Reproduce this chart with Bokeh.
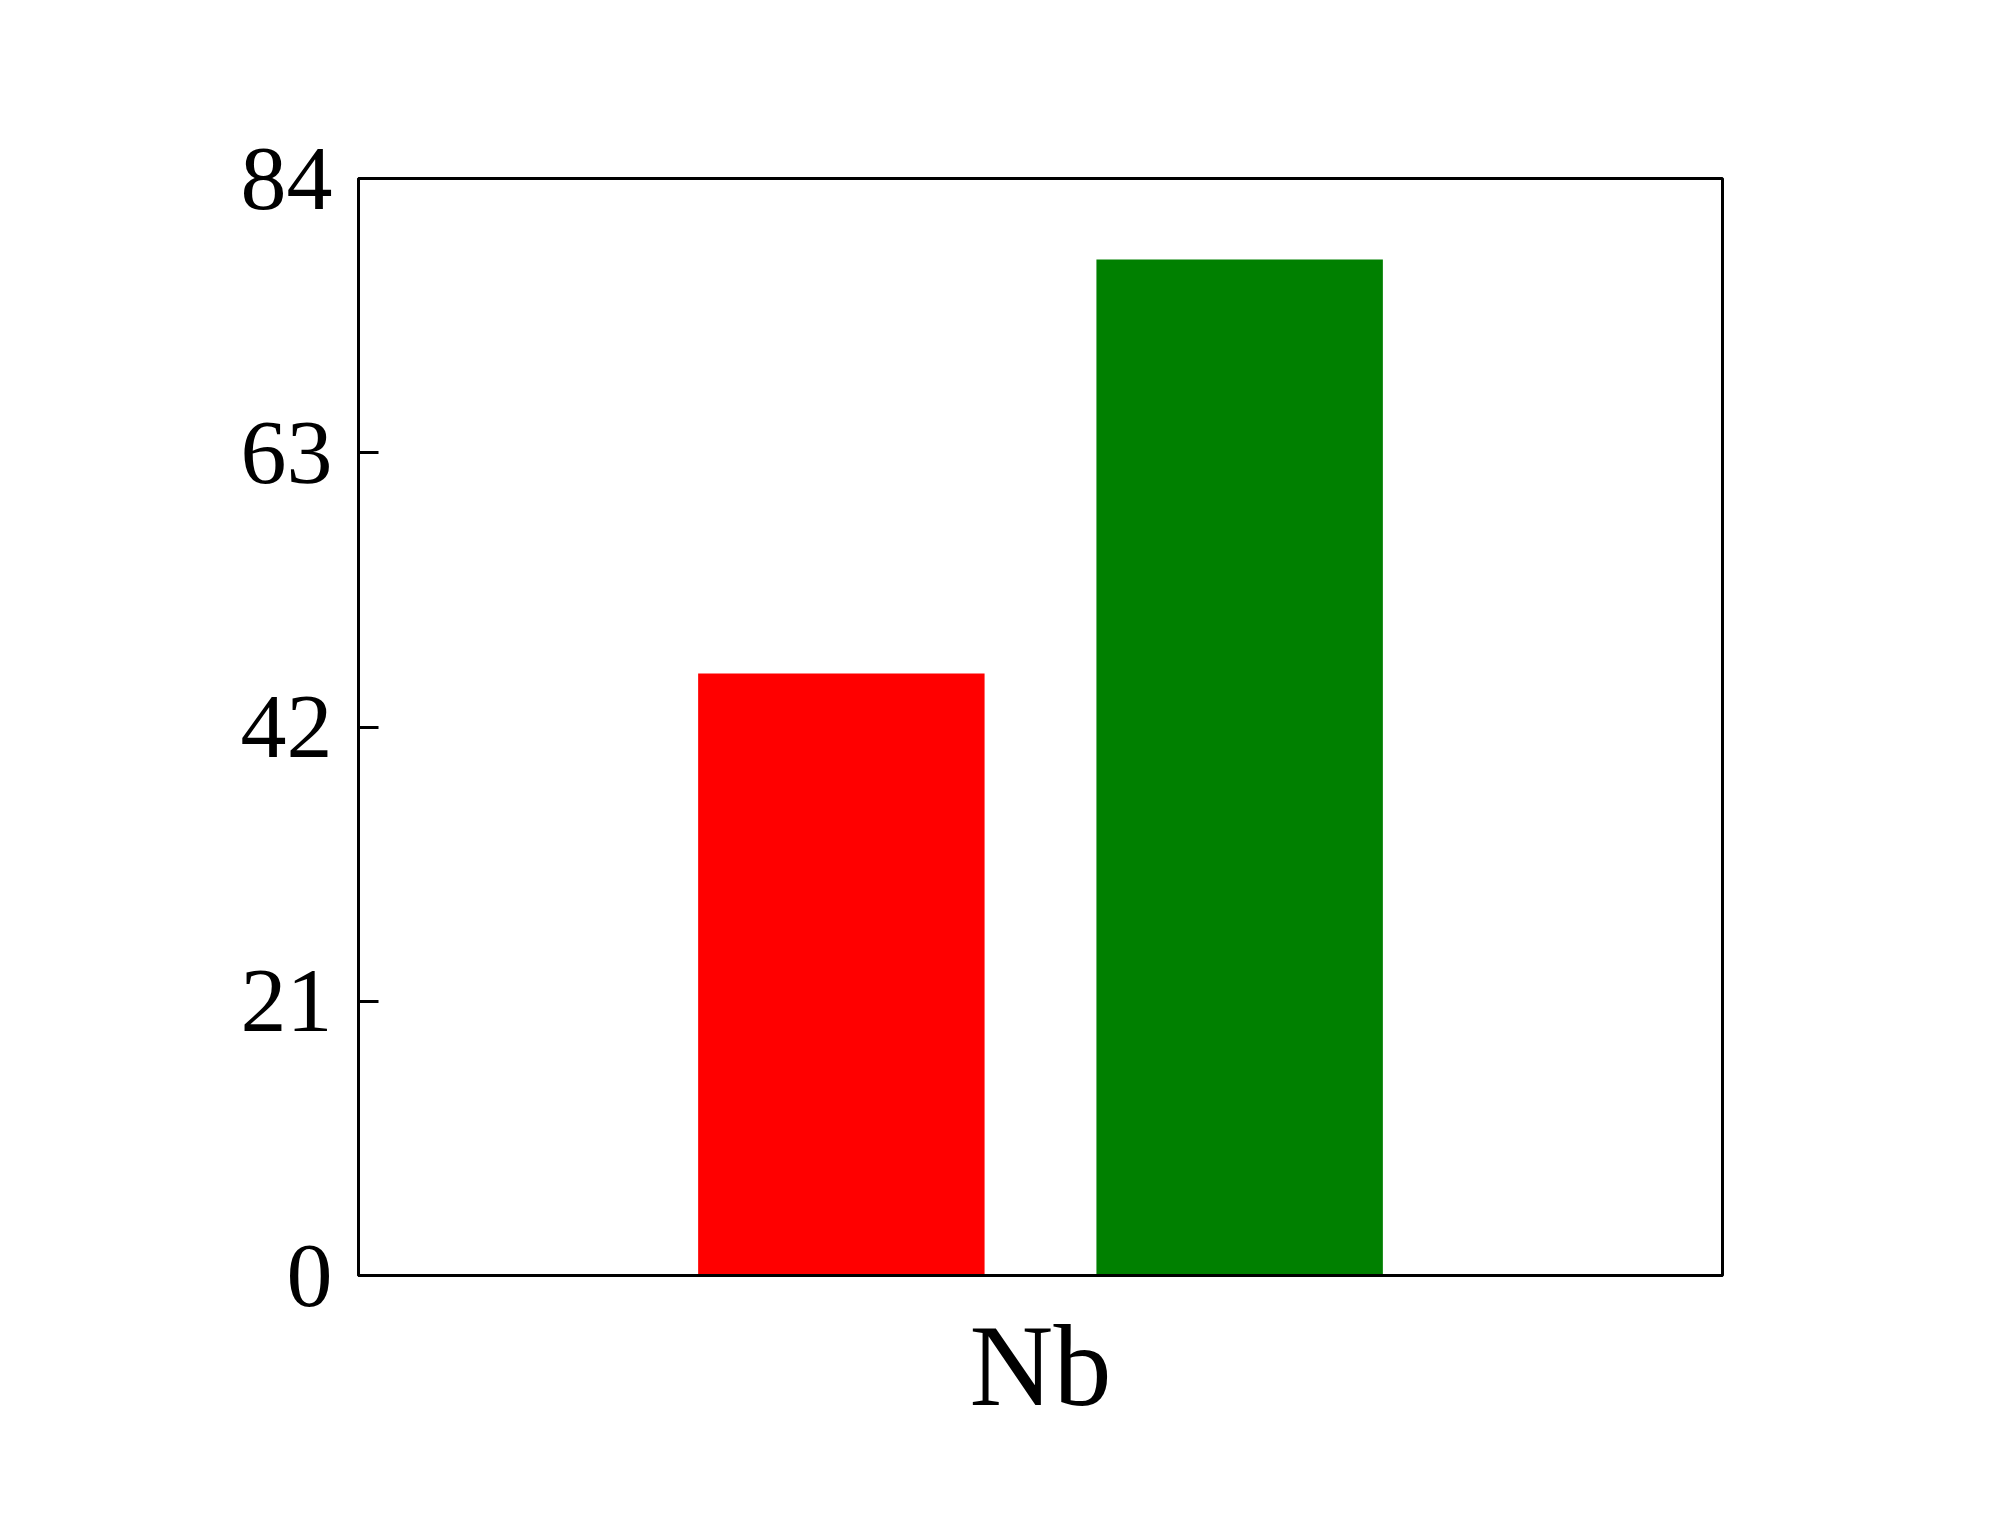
from bokeh.plotting import figure
from bokeh.models import ColumnDataSource, FactorRange, Range1d, FixedTicker
from bokeh.transform import dodge
from bokeh.embed import file_html
from bokeh.resources import INLINE

categories = ["Nb"]
series_a = [46.1]   # red
series_b = [77.8]   # green
y_ticks = [0, 21, 42, 63, 84]

source = ColumnDataSource(data=dict(cat=categories, a=series_a, b=series_b))

p = figure(width=1983, height=1514, output_backend="svg", toolbar_location=None,
           x_range=FactorRange(*categories, range_padding=0), y_range=Range1d(0, 84),
           min_border_left=358, min_border_right=261, min_border_top=178, min_border_bottom=239)

p.vbar(x=dodge("cat", -0.146, range=p.x_range), top="a", width=0.21, source=source,
       fill_color="#ff0000", line_color=None)
p.vbar(x=dodge("cat", 0.146, range=p.x_range), top="b", width=0.21, source=source,
       fill_color="#008000", line_color=None)

p.grid.visible = False
p.background_fill_color = "white"
p.border_fill_color = "white"
p.outline_line_color = "black"
p.outline_line_width = 3

p.yaxis.ticker = FixedTicker(ticks=y_ticks)
p.yaxis.major_tick_in = 20
p.yaxis.major_tick_out = 0
p.yaxis.major_tick_line_width = 3
p.yaxis.major_tick_line_color = "black"
p.yaxis.minor_tick_line_color = None
p.yaxis.axis_line_width = 3
p.yaxis.axis_line_color = "black"
p.yaxis.major_label_text_font = "Liberation Serif"
p.yaxis.major_label_text_font_size = "92px"
p.yaxis.major_label_text_color = "black"
p.yaxis.major_label_standoff = 26

p.xaxis.major_tick_line_color = None
p.xaxis.minor_tick_line_color = None
p.xaxis.axis_line_width = 3
p.xaxis.axis_line_color = "black"
p.xaxis.major_label_text_font = "Liberation Serif"
p.xaxis.major_label_text_font_size = "116px"
p.xaxis.major_label_text_color = "black"
p.xaxis.major_label_standoff = 20

open("out.html", "w").write(file_html(p, INLINE))
